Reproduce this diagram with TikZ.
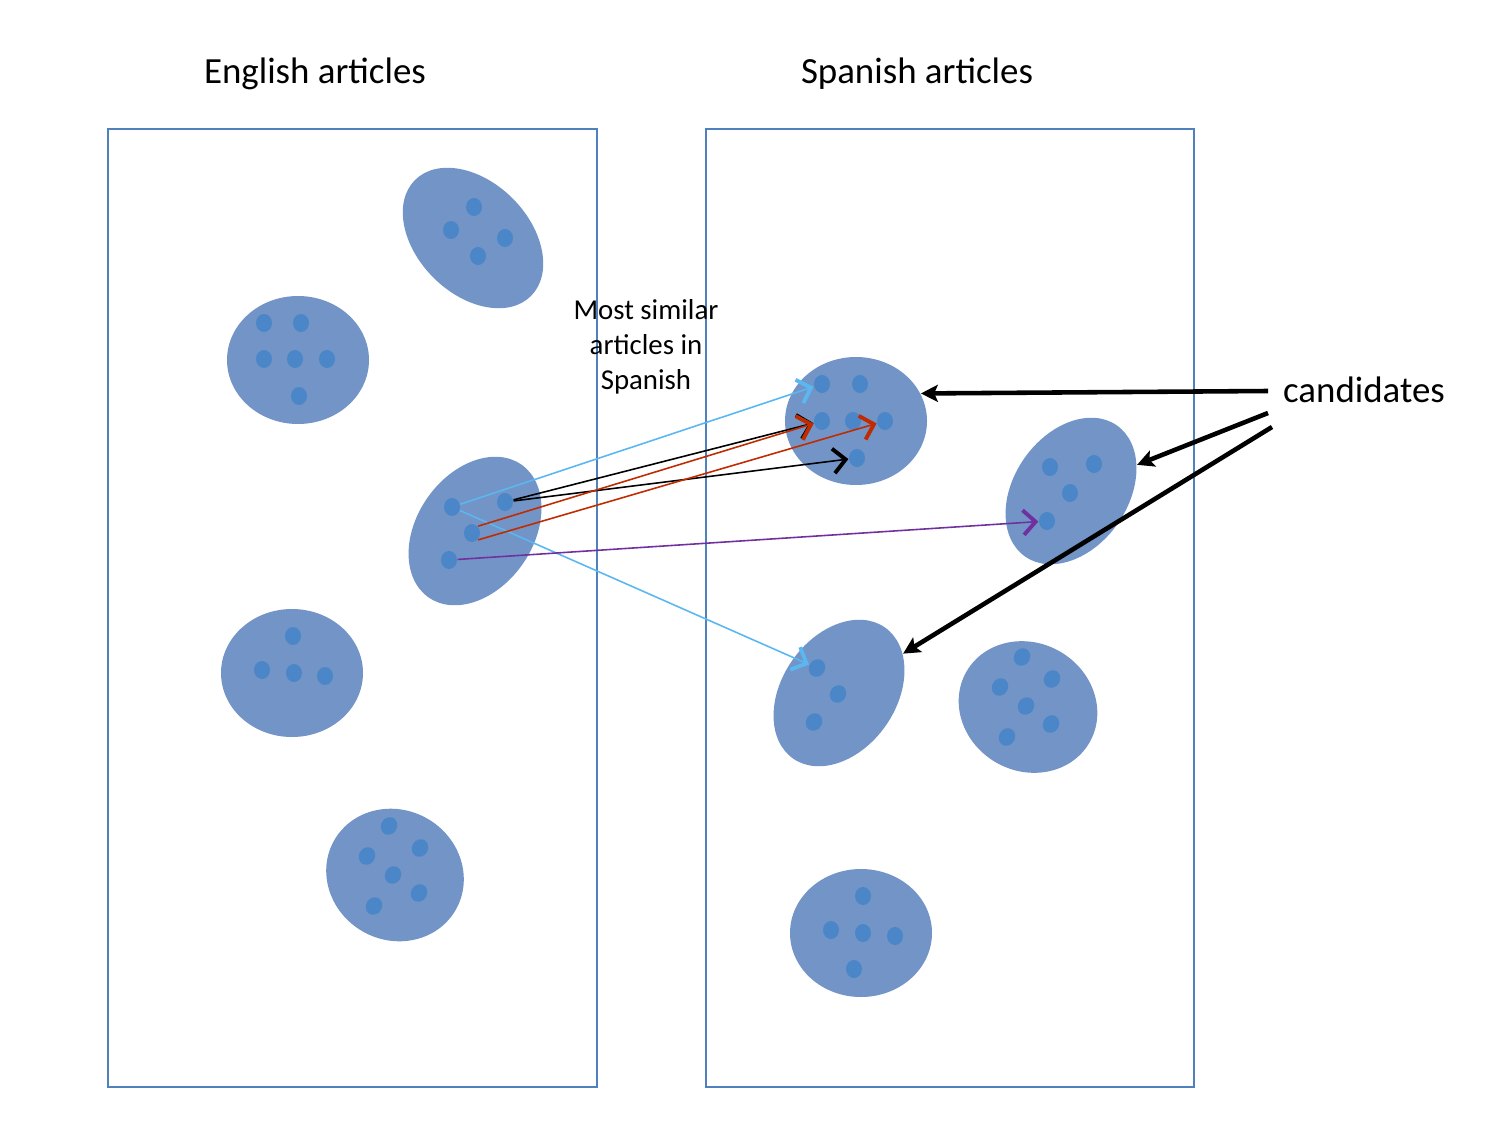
\documentclass[tikz,border=0pt]{standalone}
\usepackage{fontspec}
\setmainfont{Carlito}
\usetikzlibrary{shapes.geometric,arrows.meta}
\definecolor{framecol}{RGB}{79,129,189}
\definecolor{clustercol}{RGB}{114,148,198}
\definecolor{dotcol}{RGB}{74,134,200}
\definecolor{skycol}{RGB}{91,183,240}
\definecolor{rustcol}{RGB}{192,44,0}
\definecolor{plumcol}{RGB}{112,48,160}

\begin{document}
\begin{tikzpicture}[x=0.1mm, y=-0.1mm,
    every node/.style = {font=\fontsize{10.5}{12.6}\selectfont},
    cluster/.style = {ellipse, fill=clustercol, inner sep=0},
    doc/.style = {ellipse, fill=dotcol, inner sep=0, minimum width=1.6mm, minimum height=1.8mm},
    boxline/.style = {draw=framecol, line width=0.45pt},
    link/.style = {line width=0.45pt, -{Straight Barb[length=3.5pt,width=7pt,line width=1.1pt]}},
    pointer/.style = {line width=1.3pt, -{Stealth[length=4.8pt,width=4.8pt,inset=1pt]}}]
        \useasboundingbox (0,0) rectangle (1500,1125);
        % the two collections
        \draw[boxline] (108,129) rectangle (597,1087);
        \draw[boxline] (706,129) rectangle (1194,1087);
        \node (entitle) at (315,74) {English articles};
        \node (estitle) at (917,74) {Spanish articles};
        % English clusters
        \node[cluster, minimum width=16.4mm, minimum height=11.2mm, rotate=-45] (en1) at (473,238) {};
        \node[cluster, minimum width=14.2mm, minimum height=12.8mm] (en2) at (298,360) {};
        \node[cluster, minimum width=16.2mm, minimum height=11.6mm, rotate=55] (en3) at (475,531) {};
        \node[cluster, minimum width=14.2mm, minimum height=12.8mm] (en4) at (292,673) {};
        \node[cluster, minimum width=14mm, minimum height=13mm, rotate=-30] (en5) at (395,875) {};
        \node[doc] (en1a) at (474,207) {}; \node[doc] (en1b) at (451,230) {};
        \node[doc] (en1c) at (505,238) {}; \node[doc] (en1d) at (478,256) {};
        \node[doc] (en2a) at (264,323) {}; \node[doc] (en2b) at (301,323) {};
        \node[doc] (en2c) at (264,359) {}; \node[doc] (en2d) at (295,359) {};
        \node[doc] (en2e) at (327,359) {}; \node[doc] (en2f) at (299,396) {};
        \node[doc] (en3a) at (452,507) {}; \node[doc] (en3b) at (505,502) {};
        \node[doc] (en3c) at (472,533) {}; \node[doc] (en3d) at (449,560) {};
        \node[doc] (en4a) at (293,636) {}; \node[doc] (en4b) at (262,670) {};
        \node[doc] (en4c) at (294,673) {}; \node[doc] (en4d) at (325,676) {};
        \node[doc, rotate=-30] (en5a) at (389,826) {}; \node[doc, rotate=-30] (en5b) at (367,856) {};
        \node[doc, rotate=-30] (en5c) at (420,848) {}; \node[doc, rotate=-30] (en5d) at (393,875) {};
        \node[doc, rotate=-30] (en5e) at (419,893) {}; \node[doc, rotate=-30] (en5f) at (374,906) {};
        % Spanish clusters
        \node[cluster, minimum width=14.2mm, minimum height=12.8mm] (es1) at (856,421) {};
        \node[cluster, minimum width=16mm, minimum height=11.4mm, rotate=55] (es2) at (1071,491) {};
        \node[cluster, minimum width=16mm, minimum height=11.4mm, rotate=55] (es3) at (839,693) {};
        \node[cluster, minimum width=14.2mm, minimum height=12.8mm, rotate=-30] (es4) at (1028,707) {};
        \node[cluster, minimum width=14.2mm, minimum height=12.8mm] (es5) at (861,933) {};
        \node[doc] (es1a) at (822,384) {}; \node[doc] (es1b) at (860,384) {};
        \node[doc] (es1c) at (822,421) {}; \node[doc] (es1d) at (853,421) {};
        \node[doc] (es1e) at (885,421) {}; \node[doc] (es1f) at (857,458) {};
        \node[doc] (es2a) at (1050,467) {}; \node[doc] (es2b) at (1094,464) {};
        \node[doc] (es2c) at (1070,493) {}; \node[doc] (es2d) at (1047,521) {};
        \node[doc, rotate=-30] (es3a) at (817,668) {}; \node[doc, rotate=-30] (es3b) at (838,694) {};
        \node[doc, rotate=-30] (es3c) at (814,722) {};
        \node[doc, rotate=-30] (es4a) at (1022,657) {}; \node[doc, rotate=-30] (es4b) at (1000,687) {};
        \node[doc, rotate=-30] (es4c) at (1052,679) {}; \node[doc, rotate=-30] (es4d) at (1026,706) {};
        \node[doc, rotate=-30] (es4e) at (1051,724) {}; \node[doc, rotate=-30] (es4f) at (1007,737) {};
        \node[doc] (es5a) at (863,896) {}; \node[doc] (es5b) at (831,930) {};
        \node[doc] (es5c) at (863,933) {}; \node[doc] (es5d) at (895,936) {};
        \node[doc] (es5e) at (854,969) {};
        % matches
        \draw[link, skycol] (en3a) -- (es1a);
        \draw[link, skycol] (en3a) -- (es3a);
        \draw[link] (en3b) -- (es1c);
        \draw[link] (en3b) -- (es1f);
        \draw[link, rustcol] (en3c.north east) -- (es1c);
        \draw[link, rustcol] (en3c.south east) -- (es1e);
        \draw[link, plumcol] (en3d) -- (es2d);
        \node[align=center, font=\fontsize{8.2}{10}\selectfont] (simlabel) at (646,347) {Most similar\\articles in\\Spanish};
        % candidates
        \node (cand) at (1364,390) {candidates};
        \coordinate (c1) at (1268,391);
        \coordinate (c2) at (1268,413);
        \coordinate (c3) at (1272,427);
        \draw[pointer] (c1) -- (es1.23);
        \draw[pointer] (c2) -- (es2);
        \draw[pointer] (c3) -- (es3);
    \end{tikzpicture}
\end{document}
